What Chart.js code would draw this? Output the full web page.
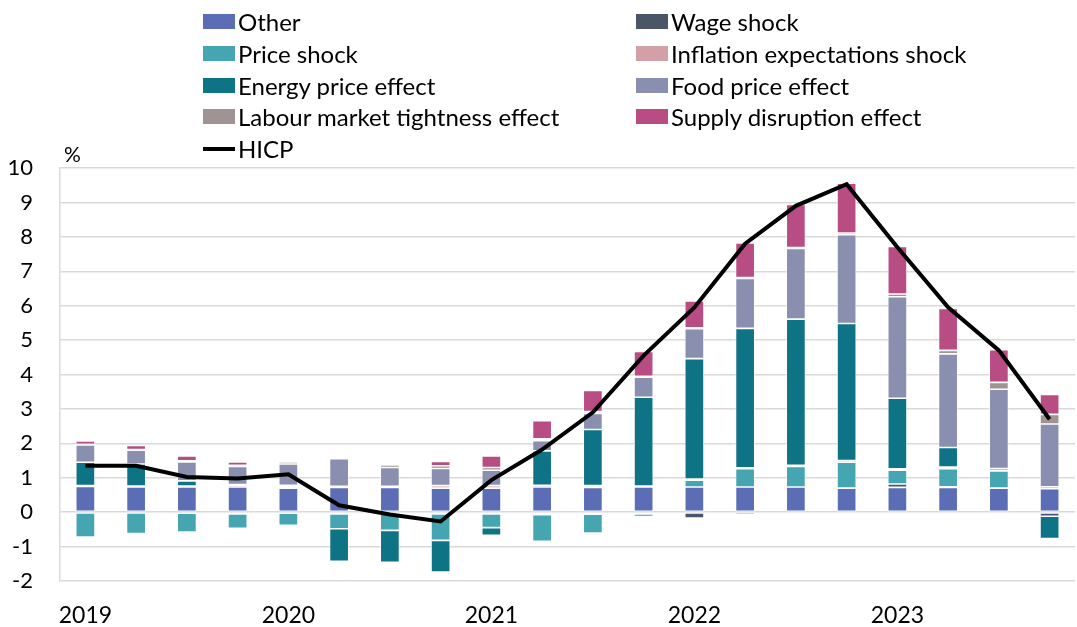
<!DOCTYPE html>
<html>
<head>
<meta charset="utf-8">
<script src="https://cdn.jsdelivr.net/npm/chart.js@4"></script>
<style>
  html, body { margin: 0; padding: 0; background: #fff; }
  #wrap { position: relative; width: 1077px; height: 627px; }
  #legend {
    position: absolute; left: 203px; top: 6px;
    display: grid; grid-template-columns: 433px 400px; row-gap: 0;
    font-family: Lato, sans-serif; font-size: 24px; color: #000;
  }
  .item { display: flex; align-items: center; height: 31.7px; white-space: nowrap; }
  .sw { width: 32px; height: 15px; margin-right: 3px; flex: none; }
  .ln { width: 32px; height: 4px; margin-right: 3px; background: #000; flex: none; }
</style>
</head>
<body>
<div id="wrap">
  <canvas id="chart" width="1077" height="627"></canvas>
  <div id="legend"></div>
</div>
<script>
document.addEventListener('DOMContentLoaded', (event) => {

    // quarterly, 2019Q1 - 2023Q4 (year shown on Q1)
    var labels = ['2019', '', '', '', '2020', '', '', '', '2021', '', '', '', '2022', '', '', '', '2023', '', '', ''];

    // contributions, percentage points
    var other   = [0.75, 0.73, 0.73, 0.73, 0.70, 0.72, 0.72, 0.70, 0.70, 0.73, 0.72, 0.73, 0.73, 0.73, 0.73, 0.70, 0.72, 0.72, 0.70, 0.68];
    var wage    = [0, 0, -0.03, -0.05, -0.03, -0.05, -0.03, -0.05, -0.05, -0.07, -0.06, -0.05, -0.17, -0.08, -0.04, 0, 0.10, 0.02, -0.05, -0.12];
    var price   = [-0.72, -0.62, -0.55, -0.42, -0.35, -0.43, -0.50, -0.77, -0.40, -0.78, -0.55, -0.08, 0.20, 0.53, 0.60, 0.75, 0.40, 0.52, 0.50, 0];
    var inflExp = [0.02, 0.03, 0.03, 0.05, 0.05, 0.03, 0.03, 0.07, 0.07, 0.05, 0.05, 0.03, 0.03, 0.03, 0.03, 0.05, 0.04, 0.05, 0.07, 0.06];
    var energy  = [0.68, 0.64, 0.15, 0.02, 0.03, -0.95, -0.93, -0.92, -0.22, 1.00, 1.63, 2.58, 3.50, 4.05, 4.25, 3.98, 2.05, 0.57, 0, -0.65];
    var food    = [0.50, 0.40, 0.55, 0.53, 0.62, 0.80, 0.55, 0.50, 0.45, 0.30, 0.47, 0.58, 0.87, 1.45, 2.05, 2.58, 2.95, 2.72, 2.30, 1.82];
    var labour  = [0.02, 0.02, 0.03, 0.03, 0.06, 0.05, 0.07, 0.08, 0.08, 0.05, 0.05, 0.03, 0.03, 0.03, 0.03, 0.05, 0.08, 0.10, 0.20, 0.28];
    var supply  = [0.10, 0.12, 0.14, 0.10, 0.03, 0.02, 0.02, 0.12, 0.33, 0.53, 0.62, 0.72, 0.78, 1.00, 1.25, 1.45, 1.38, 1.22, 0.95, 0.58];
    var hicp    = [1.35, 1.35, 1.02, 0.98, 1.10, 0.20, -0.07, -0.27, 0.93, 1.82, 2.90, 4.55, 5.95, 7.80, 8.90, 9.53, 7.70, 5.95, 4.70, 2.70];

    var series = [
        { label: 'Other', data: other, color: '#5b6db5' },
        { label: 'Wage shock', data: wage, color: '#4a5568' },
        { label: 'Price shock', data: price, color: '#45a5b0' },
        { label: 'Inflation expectations shock', data: inflExp, color: '#d4a0a8' },
        { label: 'Energy price effect', data: energy, color: '#0e7384' },
        { label: 'Food price effect', data: food, color: '#8a8fb0' },
        { label: 'Labour market tightness effect', data: labour, color: '#a09393' },
        { label: 'Supply disruption effect', data: supply, color: '#b84d84' }
    ];

    var datasets = series.map(s => ({
        type: 'bar',
        label: s.label,
        data: s.data,
        backgroundColor: s.color,
        borderColor: '#ffffff',
        borderWidth: 0.8,
        borderSkipped: false,
        categoryPercentage: 1,
        barPercentage: 0.38,
        order: 1
    }));

    datasets.push({
        type: 'line',
        label: 'HICP',
        data: hicp,
        borderColor: '#000000',
        borderWidth: 4,
        pointRadius: 0,
        tension: 0,
        stack: 'hicp',
        order: 0
    });

    // html legend, two columns like the original
    var legend = document.getElementById('legend');
    series.concat([{ label: 'HICP', line: true }]).forEach(s => {
        var item = document.createElement('div');
        item.className = 'item';
        var sw = document.createElement('span');
        sw.className = s.line ? 'ln' : 'sw';
        if (!s.line) sw.style.background = s.color;
        item.appendChild(sw);
        item.appendChild(document.createTextNode(s.label));
        legend.appendChild(item);
    });

    // "%" unit label above the axis
    var unitLabel = {
        id: 'unitLabel',
        afterDraw(chart) {
            var c = chart.ctx;
            c.save();
            c.font = '21px Lato, sans-serif';
            c.fillStyle = '#000';
            c.textBaseline = 'bottom';
            c.fillText('%', chart.chartArea.left + 4, chart.chartArea.top - 2);
            c.restore();
        }
    };

    var ctx = document.getElementById('chart').getContext('2d');

    var chart = new Chart(ctx, {
        data: { labels: labels, datasets: datasets },
        options: {
            responsive: false,
            animation: false,
            layout: { padding: { top: 168, right: 2, left: 0, bottom: 0 } },
            scales: {
                x: {
                    stacked: true,
                    grid: { display: false },
                    border: { display: false },
                    ticks: {
                        autoSkip: false,
                        maxRotation: 0,
                        padding: 13,
                        color: '#000',
                        font: { family: 'Lato', size: 23 }
                    },
                    afterFit(scale) { scale.height = 46; }
                },
                y: {
                    stacked: true,
                    min: -2,
                    max: 10,
                    ticks: {
                        stepSize: 1,
                        padding: 27,
                        color: '#000',
                        font: { family: 'Lato', size: 22 }
                    },
                    grid: { color: '#d9d9d9', lineWidth: 1.5, drawTicks: false },
                    border: { display: true, color: '#d9d9d9', width: 1.5 },
                    afterFit(scale) { scale.width = 60; }
                }
            },
            plugins: {
                legend: { display: false },
                tooltip: { enabled: false }
            }
        },
        plugins: [unitLabel]
    });
});
</script>
</body>
</html>
